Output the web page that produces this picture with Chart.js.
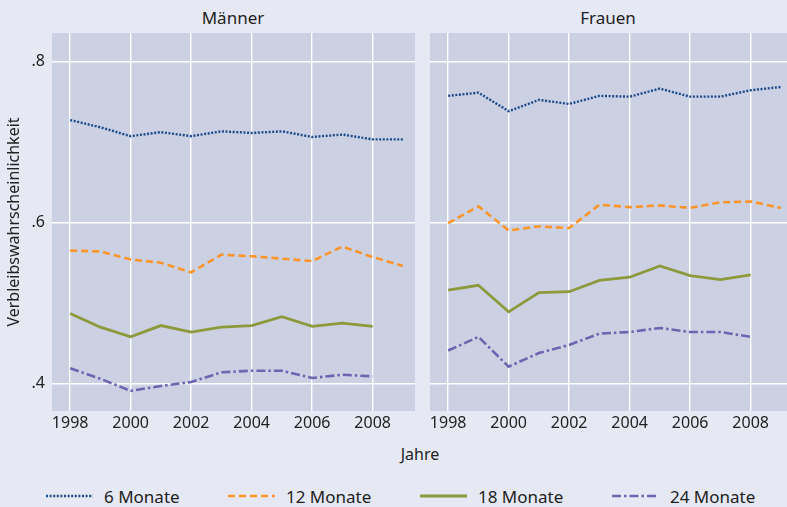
<!DOCTYPE html>
<html lang="de">
<head>
<meta charset="utf-8">
<script src="https://cdn.jsdelivr.net/npm/chart.js@4.4.0/dist/chart.umd.min.js"></script>
<style>
  html, body { margin: 0; padding: 0; width: 787px; height: 507px; overflow: hidden; background: #e6e9f4; font-family: "Noto Sans", sans-serif; color: #222; }
  canvas { position: absolute; }
  .title { position: absolute; top: 6px; font-size: 17px; text-align: center; width: 200px; }
  #xlabel { position: absolute; left: 370px; width: 100px; top: 443px; font-size: 16px; text-align: center; }
  .leg { position: absolute; top: 484px; height: 24px; display: flex; align-items: center; font-size: 17px; white-space: nowrap; }
  .leg svg { margin-right: 11px; }
</style>
</head>
<body>
<div class="title" style="left:133px">Männer</div>
<div class="title" style="left:508px">Frauen</div>
<canvas id="men" width="415" height="408" style="left:0;top:33px"></canvas>
<canvas id="women" width="415" height="408" style="left:378px;top:33px"></canvas>
<div id="xlabel">Jahre</div>
<div id="legend"></div>
<script>
  const years = [1998, 1999, 2000, 2001, 2002, 2003, 2004, 2005, 2006, 2007, 2008, 2009];
  const xTicks = [1998, 2000, 2002, 2004, 2006, 2008];
  const yTicks = [0.4, 0.6, 0.8];
  const seriesNames = ['6 Monate', '12 Monate', '18 Monate', '24 Monate'];

  const maenner6 = [0.727, 0.718, 0.707, 0.712, 0.707, 0.713, 0.711, 0.713, 0.706, 0.709, 0.703, 0.703];
  const maenner12 = [0.565, 0.564, 0.554, 0.550, 0.538, 0.560, 0.558, 0.555, 0.552, 0.570, 0.557, 0.546];
  const maenner18 = [0.487, 0.470, 0.458, 0.472, 0.464, 0.470, 0.472, 0.483, 0.471, 0.475, 0.471];
  const maenner24 = [0.419, 0.406, 0.391, 0.397, 0.402, 0.414, 0.416, 0.416, 0.407, 0.411, 0.409];

  const frauen6 = [0.757, 0.761, 0.738, 0.752, 0.747, 0.757, 0.756, 0.766, 0.756, 0.756, 0.764, 0.768];
  const frauen12 = [0.599, 0.620, 0.590, 0.595, 0.593, 0.622, 0.619, 0.621, 0.618, 0.625, 0.626, 0.618];
  const frauen18 = [0.516, 0.522, 0.489, 0.513, 0.514, 0.528, 0.532, 0.546, 0.534, 0.529, 0.535];
  const frauen24 = [0.441, 0.458, 0.421, 0.438, 0.448, 0.462, 0.464, 0.469, 0.464, 0.464, 0.458];

  // line styles per series
  const styles = [
    { color: '#1a4a8a', width: 2.4, dash: [2, 1.6] },
    { color: '#fb952a', width: 2.6, dash: [7, 4] },
    { color: '#8c9a3c', width: 2.8, dash: [] },
    { color: '#6e64b0', width: 2.6, dash: [9, 3, 2.5, 3] },
  ];

  const PLOT_BG = '#cbd1e3';
  const FONT = { family: 'Noto Sans', size: 16 };

  const plotBg = {
    id: 'plotBg',
    beforeDraw(chart) {
      const { ctx, chartArea: a } = chart;
      ctx.save();
      ctx.fillStyle = PLOT_BG;
      ctx.fillRect(a.left, a.top, a.right - a.left, a.bottom - a.top);
      ctx.restore();
    }
  };

  function makeDatasets(list) {
    return list.map((vals, i) => ({
      label: seriesNames[i],
      data: vals.map((v, j) => ({ x: years[j], y: v })),
      borderColor: styles[i].color,
      borderWidth: styles[i].width,
      borderDash: styles[i].dash,
      pointRadius: 0,
      tension: 0,
      fill: false,
    }));
  }

  function makeChart(id, list, showY) {
    return new Chart(document.getElementById(id), {
      type: 'line',
      data: { datasets: makeDatasets(list) },
      plugins: [plotBg],
      options: {
        responsive: false,
        animation: false,
        layout: { padding: 0 },
        plugins: { legend: { display: false }, tooltip: { enabled: false } },
        scales: {
          x: {
            type: 'linear',
            min: 1997.4,
            max: 2009.4,
            afterBuildTicks: s => { s.ticks = xTicks.map(v => ({ value: v })); },
            afterFit: s => { s.height = 30; s.paddingLeft = 0; s.paddingRight = 0; },
            grid: { color: '#ffffff', lineWidth: 1.4, drawTicks: false },
            border: { display: false },
            ticks: { font: FONT, color: '#222', padding: 3, maxRotation: 0, callback: v => String(v) },
          },
          y: {
            min: 0.366,
            max: 0.835,
            afterBuildTicks: s => { s.ticks = yTicks.map(v => ({ value: v })); },
            afterFit: s => { s.width = 52; s.paddingTop = 0; s.paddingBottom = 0; },
            grid: { color: '#ffffff', lineWidth: 1.4, drawTicks: false },
            border: { display: false },
            ticks: {
              display: showY, font: FONT, color: '#222', padding: 7,
              callback: v => String(v).replace(/^0/, ''),
            },
            title: {
              display: showY, text: 'Verbleibswahrscheinlichkeit',
              font: FONT, color: '#222', padding: { top: 5, bottom: 0 },
            },
          },
        },
      },
    });
  }

  makeChart('men', [maenner6, maenner12, maenner18, maenner24], true);
  makeChart('women', [frauen6, frauen12, frauen18, frauen24], false);

  // legend below both panels
  const legendX = [46, 228, 420, 612];
  const legend = document.getElementById('legend');
  seriesNames.forEach((name, i) => {
    const st = styles[i];
    const item = document.createElement('div');
    item.className = 'leg';
    item.style.left = legendX[i] + 'px';
    item.innerHTML =
      `<svg width="47" height="6"><line x1="0" y1="3" x2="47" y2="3" stroke="${st.color}" ` +
      `stroke-width="${st.width}" stroke-dasharray="${st.dash.join(' ') || 'none'}"/></svg>${name}`;
    legend.appendChild(item);
  });
</script>
</body>
</html>
